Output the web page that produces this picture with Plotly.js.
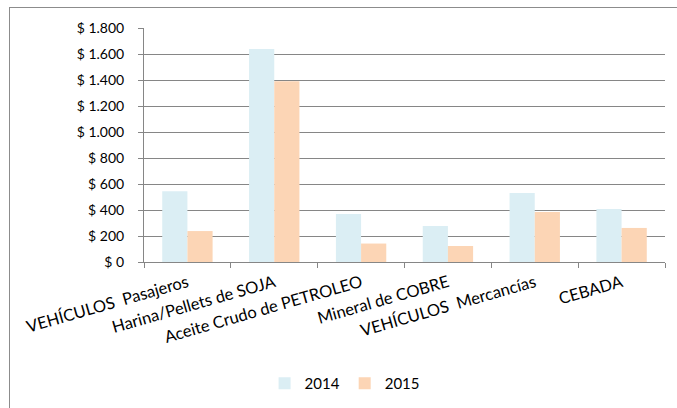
<!DOCTYPE html>
<html>
<head>
<meta charset="utf-8">
<script src="https://cdn.plot.ly/plotly-3.0.1.min.js"></script>
<style>
  html, body { margin: 0; padding: 0; background: #fff; }
  #wrap { position: relative; width: 677px; height: 408px; overflow: hidden; }
  #chart { width: 677px; height: 408px; }
  #frame { position: absolute; left: 9px; top: 7px; width: 700px; height: 450px; border: 1px solid #8c8c8c; pointer-events: none; }
</style>
</head>
<body>
<div id="wrap">
  <div id="chart"></div>
  <div id="frame"></div>
</div>
<script>
const categories = [
  "VEHÍCULOS  Pasajeros",
  "Harina/Pellets de SOJA",
  "Aceite Crudo de PETROLEO",
  "Mineral de COBRE",
  "VEHÍCULOS  Mercancías",
  "CEBADA"
];
const values2014 = [545, 1638, 369, 277, 531, 408];
const values2015 = [238, 1390, 142, 123, 385, 262];
const seriesNames = ["2014", "2015"];
const colors = ["#dbeef4", "#fcd5b5"];

const traces = [
  { type: "bar", name: seriesNames[0], x: categories, y: values2014, marker: { color: colors[0] } },
  { type: "bar", name: seriesNames[1], x: categories, y: values2015, marker: { color: colors[1] } }
];

const layout = {
  width: 677, height: 408,
  margin: { l: 144, r: 12, t: 28, b: 146 },
  paper_bgcolor: "#ffffff",
  plot_bgcolor: "#ffffff",
  font: { family: "Lato, 'Open Sans', sans-serif", color: "#000000", size: 14 },
  separators: ",.",
  barmode: "group",
  bargap: 0.42,
  bargroupgap: 0,
  showlegend: true,
  legend: {
    orientation: "h",
    x: 0.385, xanchor: "center",
    yref: "container", y: 0.06, yanchor: "middle",
    font: { size: 15 },
    itemwidth: 30
  },
  xaxis: {
    type: "category",
    tickangle: -16,
    tickfont: { size: 16.5 },
    ticklabelstandoff: 4,
    showline: true, linecolor: "#868686", linewidth: 1,
    ticks: "outside", tickson: "boundaries", ticklen: 5, tickcolor: "#868686",
    showgrid: false,
    automargin: false
  },
  yaxis: {
    range: [0, 1800],
    dtick: 200,
    tickformat: ",d",
    tickprefix: "$ ",
    tickfont: { size: 14 },
    ticklabelstandoff: 11,
    showline: true, linecolor: "#868686", linewidth: 1,
    ticks: "outside", ticklen: 5, tickcolor: "#868686",
    showgrid: true, gridcolor: "#868686", gridwidth: 1,
    zeroline: false,
    automargin: false
  }
};

Plotly.newPlot("chart", traces, layout, { displayModeBar: false, staticPlot: true });
</script>
</body>
</html>
